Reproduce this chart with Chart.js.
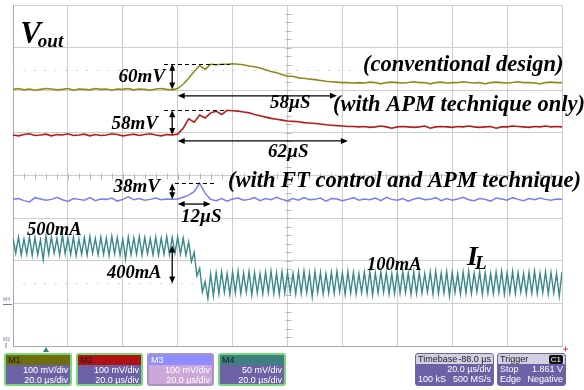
<!DOCTYPE html>
<html>
<head>
<meta charset="utf-8">
<script src="https://cdn.jsdelivr.net/npm/chart.js@4/dist/chart.umd.min.js"></script>
<style>
  body { margin: 0; background: #fff; }
  #wrap { position: relative; width: 584px; height: 390px; overflow: hidden; }
  #scope { position: absolute; left: 0; top: 0; }
  .ch { position: absolute; top: 353px; height: 29px; border: 2px solid #7ad87a; border-radius: 3px;
        background: #6b61a4; font-family: "Liberation Sans", Arial, sans-serif; overflow: hidden; }
  .hd { height: 10px; line-height: 10px; padding-left: 2px; font-size: 9px; color: #1c1c1c; }
  .bd { color: #fff; text-align: right; padding-right: 2px; font-size: 9px; line-height: 9.5px; padding-top: 1px; }
  .info { position: absolute; top: 353px; height: 31px; border: 1px solid #7064a8; border-radius: 3px;
          background: #6b61a4; font-family: "Liberation Sans", Arial, sans-serif; overflow: hidden; font-size: 9px; }
  .info .hd { background: #d3d0e3; color: #222; padding: 0 2px; display: flex; justify-content: space-between; }
  .row { display: flex; justify-content: space-between; color: #fff; padding: 0 2px; line-height: 10px; }
  .badge { background: #111; color: #fff; border-radius: 2px; padding: 0 2px; font-size: 8px; line-height: 9px; height: 9px; margin-top: 0.5px; }
</style>
</head>
<body>
<div id="wrap">
  <canvas id="scope" width="584" height="390"></canvas>

  <div class="ch" style="left:4px;width:64px;">
    <div class="hd" style="background:#6e6e0e;">M1</div>
    <div class="bd">100 mV/div<br>20.0 µs/div</div>
  </div>
  <div class="ch" style="left:76px;width:63px;">
    <div class="hd" style="background:#b01212;">M2</div>
    <div class="bd">100 mV/div<br>20.0 µs/div</div>
  </div>
  <div class="ch" style="left:147px;width:63px;border-color:#a596c4;background:#cba6d8;">
    <div class="hd" style="background:#8d8dff;color:#fff;">M3</div>
    <div class="bd">100 mV/div<br>20.0 µs/div</div>
  </div>
  <div class="ch" style="left:218px;width:64px;">
    <div class="hd" style="background:#3e8080;">M4</div>
    <div class="bd">50 mV/div<br>20.0 µs/div</div>
  </div>

  <div class="info" style="left:415px;width:77px;">
    <div class="hd"><span>Timebase</span><span>-88.0 µs</span></div>
    <div class="row"><span></span><span>20.0 µs/div</span></div>
    <div class="row"><span>100 kS</span><span>500 MS/s</span></div>
  </div>
  <div class="info" style="left:497px;width:67px;">
    <div class="hd"><span>Trigger</span><span class="badge">C1</span></div>
    <div class="row"><span>Stop</span><span>1.861 V</span></div>
    <div class="row"><span>Edge</span><span>Negative</span></div>
  </div>
</div>

<script>
// scope settings: 10 x 20 µs horizontally, 8 divisions vertically
const timeDivs = 10;
const usPerDiv = 20;
const mvPerDiv = 100;
const maPerDiv = 450;

// sample spacing of the stored traces (µs)
const vStep = 2;
const iStep = 1;

// Vout, conventional design: deviation from the 0 level in mV
const convMv = [
  0, 2, -1, 1, -2, 0, 2, 1, -1, 0, 2, -2, 1, 0, -1, 2, 0, 1, -2, 1, 0, 2, -1, 1, 0, -2, 1, 2, 0, -1,
  2, 12, 26, 42, 56, 47, 59, 58, 59, 59, 60, 59, 58, 55, 53, 50, 46, 42, 39, 35, 31, 31, 27, 26, 24,
  23, 21, 19, 18, 17, 16, 16, 15,
  16, 15, 17, 16, 13, 16, 17, 16, 15, 16, 18, 16, 16, 13, 16, 17, 15, 16, 16, 18, 16, 15, 16, 13,
  16, 17, 16, 15, 16, 18, 16, 16, 15, 13, 16, 17, 16, 16
];

// Vout, APM technique only (mV)
const apmMv = [
  0, -2, 1, 3, -1, 0, 2, -2, 1, 0, 3, -1, 0, 2, -2, 1, -1, 0, 3, 1, -2, 0, 2, -1, 1, 3, 0, -2, 1, 0,
  2, 16, 38, 30, 47, 40, 52, 56, 48, 58, 57, 56, 54, 52, 48, 45, 42, 39, 37, 35, 33, 32, 31, 29, 28,
  27, 26, 24, 23, 22, 21, 20, 20,
  19, 20, 18, 19, 21, 19, 16, 19, 20, 19, 18, 19, 21, 16, 19, 20, 19, 18, 20, 19, 21, 19, 18, 19,
  20, 16, 19, 19, 21, 20, 19, 18, 20, 19, 21, 19, 20, 19
];

// Vout, FT control + APM technique (mV)
const ftMv = [
  0, 2, -3, -6, 4, 1, -2, 0, 5, -1, -5, 2, 0, -2, 4, -3, 1, 0, 3, -4, 0, 6, -1, 2, -2, 0, 3, -1, 1, 0,
  1, 5, 10, 18, 38, 14,
  0, -3, 2, -4, 1, 3, -2, 0, 4, -3, 2, -1, 5, 0, -3, 2, -2, 4, -1, 0,
  3, -4, 2, 1, -3, 0, 4, -2, 1, -1, 3, -3, 5, 0, -2, 2, -4, 1, 3, -1,
  0, 4, -3, 2, -2, 1, 5, -1, -3, 2, 0, -4, 3, 1, -2, 4, 0, -3, 2, -1,
  3, 0, -2, 1, 0
];

// inductor current IL (mA), load step 500 mA -> 100 mA
const ilMa = [
  580, 420, 590, 400, 570, 410, 595, 395, 585, 405,
  560, 350, 600, 410, 590, 420, 575, 400, 610, 415,
  580, 405, 590, 395, 570, 410, 585, 400, 595, 420,
  575, 405, 590, 410, 580, 395, 600, 415, 585, 400,
  570, 360, 590, 405, 580, 410, 595, 400, 585, 415,
  575, 405, 590, 400, 580, 410, 595, 405, 585, 420,
  590, 410, 580, 400,
  540, 330, 430, 180, 260, 10, 120, -60,
  200, -30, 215, -10, 225, 5, 205, -15, 220, 0,
  230, -5, 210, 10, 225, -20, 215, 0, 205, -10,
  220, 5, 230, -5, 210, -15, 225, 0, 215, 10,
  205, -10, 220, -5, 230, 0, 210, -40, 225, 5,
  215, -10, 205, 0, 220, -5, 230, 10, 210, -15,
  225, 0, 215, -10, 205, 5, 220, -5, 230, -20,
  210, 0, 225, 10, 215, -10, 205, -5, 220, 0,
  230, 5, 210, -15, 225, -5, 215, 0, 205, 10,
  220, -10, 230, -5, 210, 0, 225, -30, 215, 5,
  205, -10, 220, 0, 230, -5, 210, 10, 225, -15,
  215, 0, 205, -5, 220, 5, 230, -10, 210, 0,
  225, -5, 215, 10, 205, -10, 220, 0, 230, -5,
  210, 5, 225, -10, 215, 0, 205, -35, 220
];

// channel 0-level positions on screen (divisions from the bottom)
const convPos = 6.02;
const apmPos = 4.95;
const ftPos = 3.44;
const ilPos = 1.244;

function trace(values, step, pos, perDiv) {
  return values.map((v, i) => ({ x: i * step, y: pos + v / perDiv }));
}

const serif = '"Liberation Serif", "Times New Roman", serif';

// level steps: vertical double arrow plus dashed line at the top level
const levelMarks = [
  { pos: convPos, per: mvPerDiv, lo: 0, hi: 60, t: 58, dash: [55, 79] },
  { pos: apmPos, per: mvPerDiv, lo: 0, hi: 58, t: 58, dash: [55, 78] },
  { pos: ftPos, per: mvPerDiv, lo: 0, hi: 38, t: 58, dash: [59, 74] },
  { pos: ilPos, per: maPerDiv, lo: 100, hi: 500, t: 58 }
];

// recovery time spans (µs)
const spanMarks = [
  { from: 60, to: 118, v: 5.87 },
  { from: 60, to: 122, v: 4.81 },
  { from: 60, to: 72, v: 3.33 }
];

const notes = [
  { text: '60mV', t: 55.4, v: 6.19, align: 'right', size: 19 },
  { text: '58mV', t: 52.8, v: 5.09, align: 'right', size: 19 },
  { text: '38mV', t: 53.5, v: 3.61, align: 'right', size: 19 },
  { text: '58µS', t: 93.6, v: 5.58, size: 19 },
  { text: '62µS', t: 92.9, v: 4.43, size: 19 },
  { text: '12µS', t: 61.2, v: 2.91, size: 19 },
  { text: '(conventional design)', t: 127.5, v: 6.45, size: 22.5 },
  { text: '(with APM technique only)', t: 116.6, v: 5.51, size: 22.5 },
  { text: '(with FT control and APM technique)', t: 78.3, v: 3.72, size: 22.5 },
  { text: '500mA', t: 5.1, v: 2.60, size: 18.5 },
  { text: '400mA', t: 34.2, v: 1.60, size: 18.5 },
  { text: '100mA', t: 129, v: 1.78, size: 18.5 }
];

// symbol labels with subscripts
const symbols = [
  { main: 'V', sub: 'out', t: 2.6, v: 7.11, size: 31, subSize: 19, drop: 4 },
  { main: 'I', sub: 'L', t: 165.4, v: 1.90, size: 28, subSize: 19, drop: 4 }
];

function arrowHead(ctx, x, y, ux, uy) {
  const len = 7, half = 3;
  ctx.beginPath();
  ctx.moveTo(x, y);
  ctx.lineTo(x - ux * len - uy * half, y - uy * len + ux * half);
  ctx.lineTo(x - ux * len + uy * half, y - uy * len - ux * half);
  ctx.closePath();
  ctx.fill();
}

function doubleArrow(ctx, x1, y1, x2, y2) {
  const d = Math.hypot(x2 - x1, y2 - y1);
  const ux = (x2 - x1) / d, uy = (y2 - y1) / d;
  ctx.beginPath();
  ctx.moveTo(x1 + ux * 4, y1 + uy * 4);
  ctx.lineTo(x2 - ux * 4, y2 - uy * 4);
  ctx.stroke();
  arrowHead(ctx, x2, y2, ux, uy);
  arrowHead(ctx, x1, y1, -ux, -uy);
}

// graticule extras: dotted cursor lines and the tick marks on the centre axes
const graticule = {
  id: 'graticule',
  beforeDatasetsDraw(chart) {
    const { ctx, chartArea: a, scales: { x, y } } = chart;
    ctx.save();
    ctx.strokeStyle = '#c4c4c4';
    ctx.lineWidth = 1;
    ctx.setLineDash([1.5, 9]);
    [6.475, 1.478].forEach(v => {
      const py = Math.round(y.getPixelForValue(v)) + 0.5;
      ctx.beginPath(); ctx.moveTo(a.left, py); ctx.lineTo(a.right, py); ctx.stroke();
    });
    ctx.setLineDash([]);
    ctx.strokeStyle = '#b8b8b8';
    const cx = Math.round(x.getPixelForValue(100)) + 0.5;
    const cy = Math.round(y.getPixelForValue(4)) + 0.5;
    ctx.beginPath();
    for (let v = 0.2; v < 8; v += 0.2) {
      const py = Math.round(y.getPixelForValue(v)) + 0.5;
      ctx.moveTo(cx - 3, py); ctx.lineTo(cx + 3, py);
    }
    for (let t = 4; t < 200; t += 4) {
      const px = Math.round(x.getPixelForValue(t)) + 0.5;
      ctx.moveTo(px, cy - 3); ctx.lineTo(px, cy + 3);
    }
    ctx.stroke();

    // channel markers on the left edge and trigger markers
    ctx.fillStyle = '#6f7bb0';
    ctx.font = '5px "Liberation Sans", sans-serif';
    ctx.fillText('M4', 3, 301);
    ctx.fillText('M2', 3, 341);
    ctx.strokeStyle = '#6f7bb0';
    ctx.beginPath(); ctx.moveTo(3, 304.5); ctx.lineTo(12, 304.5); ctx.stroke();
    ctx.beginPath(); ctx.moveTo(6, 343); ctx.lineTo(6, 348); ctx.stroke();
    ctx.fillStyle = '#3e8080';
    ctx.beginPath(); ctx.moveTo(46, 347); ctx.lineTo(49, 352); ctx.lineTo(43, 352); ctx.closePath(); ctx.fill();
    ctx.strokeStyle = '#d04040';
    ctx.beginPath(); ctx.moveTo(563, 349); ctx.lineTo(568, 349); ctx.moveTo(565.5, 346.5); ctx.lineTo(565.5, 351.5); ctx.stroke();
    ctx.restore();
  }
};

// measurement arrows and text labels
const markup = {
  id: 'markup',
  afterDatasetsDraw(chart) {
    const { ctx, scales: { x, y } } = chart;
    ctx.save();
    ctx.fillStyle = '#000';
    ctx.strokeStyle = '#000';
    ctx.lineWidth = 1.3;

    levelMarks.forEach(m => {
      const px = x.getPixelForValue(m.t);
      const yLo = y.getPixelForValue(m.pos + m.lo / m.per);
      const yHi = y.getPixelForValue(m.pos + m.hi / m.per);
      doubleArrow(ctx, px, yHi, px, yLo);
      if (m.dash) {
        ctx.save();
        ctx.lineWidth = 1;
        ctx.setLineDash([4, 3]);
        ctx.beginPath();
        ctx.moveTo(x.getPixelForValue(m.dash[0]), Math.round(yHi) + 0.5);
        ctx.lineTo(x.getPixelForValue(m.dash[1]), Math.round(yHi) + 0.5);
        ctx.stroke();
        ctx.restore();
      }
    });

    spanMarks.forEach(s => {
      const py = y.getPixelForValue(s.v);
      doubleArrow(ctx, x.getPixelForValue(s.from), py, x.getPixelForValue(s.to), py);
    });

    ctx.textBaseline = 'alphabetic';
    notes.forEach(n => {
      ctx.font = `italic bold ${n.size}px ${serif}`;
      ctx.textAlign = n.align || 'left';
      ctx.fillText(n.text, x.getPixelForValue(n.t), y.getPixelForValue(n.v));
    });

    ctx.textAlign = 'left';
    symbols.forEach(s => {
      const px = x.getPixelForValue(s.t), py = y.getPixelForValue(s.v);
      ctx.font = `italic bold ${s.size}px ${serif}`;
      ctx.fillText(s.main, px, py);
      const w = ctx.measureText(s.main).width;
      ctx.font = `italic bold ${s.subSize}px ${serif}`;
      ctx.fillText(s.sub, px + w - 3, py + s.drop);
    });
    ctx.restore();
  }
};

new Chart(document.getElementById('scope'), {
  type: 'line',
  data: {
    datasets: [
      { label: 'conventional design', data: trace(convMv, vStep, convPos, mvPerDiv), borderColor: '#8c8c1c', borderWidth: 1.6 },
      { label: 'with APM technique only', data: trace(apmMv, vStep, apmPos, mvPerDiv), borderColor: '#b41c1c', borderWidth: 1.6 },
      { label: 'with FT control and APM technique', data: trace(ftMv, vStep, ftPos, mvPerDiv), borderColor: '#7c7cf2', borderWidth: 1.5 },
      { label: 'IL', data: trace(ilMa, iStep, ilPos, maPerDiv), borderColor: '#3a8888', borderWidth: 1.4 }
    ]
  },
  options: {
    responsive: false,
    animation: false,
    devicePixelRatio: 1,
    layout: { padding: { left: 13, top: 5, right: 22, bottom: 44 } },
    elements: { point: { radius: 0 }, line: { tension: 0 } },
    plugins: { legend: { display: false }, tooltip: { enabled: false } },
    scales: {
      x: {
        type: 'linear', min: 0, max: timeDivs * usPerDiv,
        ticks: { display: false, stepSize: usPerDiv },
        grid: { color: '#cdcdcd', drawTicks: false },
        border: { color: '#a8a8a8' }
      },
      y: {
        min: 0, max: 8,
        ticks: { display: false, stepSize: 1 },
        grid: { color: '#cdcdcd', drawTicks: false },
        border: { color: '#a8a8a8' }
      }
    }
  },
  plugins: [graticule, markup]
});
</script>
</body>
</html>
